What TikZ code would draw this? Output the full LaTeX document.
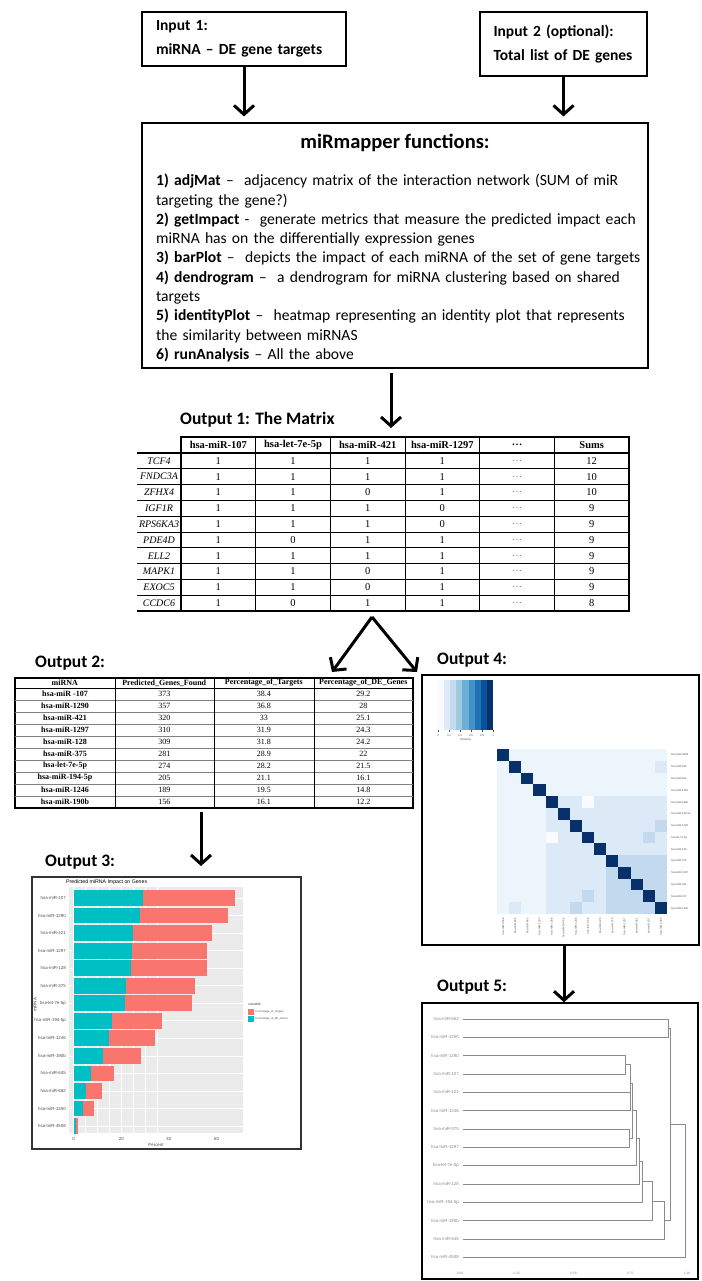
\documentclass[tikz,border=0pt]{standalone}
\usepackage{fontspec}
\setmainfont{Carlito}
\newfontfamily\tabfont{Liberation Serif}
\newfontfamily\plotfont{Liberation Sans}
\usetikzlibrary{arrows.meta,positioning}
\definecolor{deblue}{HTML}{00BFC4}
\definecolor{tgtred}{HTML}{F8766D}
\definecolor{panelgray}{HTML}{EBEBEB}
\definecolor{axisgray}{HTML}{4D4D4D}
\definecolor{dendgray}{HTML}{8A8A8A}
\definecolor{hmd}{HTML}{08306B}
\definecolor{hml}{HTML}{DCE9F6}
\definecolor{hmm}{HTML}{C3D9EE}
\definecolor{hmv}{HTML}{EDF5FC}
\definecolor{hmw}{HTML}{F9FBFF}
\tikzset{
  >=Stealth,
  bigarrow/.style = {line width=3pt, -{Straight Barb[length=9pt,width=20pt]}},
  inbox/.style = {draw, line width=1.1pt, align=left, font=\bfseries\fontsize{15.5}{24}\selectfont},
  otitle/.style = {anchor=west, inner sep=0pt, font=\bfseries\fontsize{17.5}{19}\selectfont},
  mhead/.style = {inner sep=0pt, font=\tabfont\bfseries\fontsize{10.5}{11}\selectfont},
  mcell/.style = {inner sep=0pt, font=\tabfont\fontsize{10.5}{11}\selectfont},
  mgene/.style = {inner sep=0pt, font=\tabfont\itshape\fontsize{10}{11}\selectfont},
  thead/.style = {inner sep=0pt, font=\tabfont\bfseries\fontsize{8}{9}\selectfont},
  tcell/.style = {inner sep=0pt, font=\tabfont\fontsize{8}{9}\selectfont},
  plotbox/.style = {draw, line width=1.5pt},
  tinytxt/.style = {inner sep=0pt, text=axisgray, font=\plotfont\fontsize{4.4}{5}\selectfont},
  hmtxt/.style = {inner sep=0pt, text=axisgray, font=\plotfont\fontsize{2.7}{3}\selectfont},
  dend/.style = {draw=dendgray, line width=0.7pt},
}
\begin{document}
\begin{tikzpicture}[x=1pt,y=-1pt]
\useasboundingbox (0,0) rectangle (701,1281);

% inputs and functions
\node[inbox, minimum width=204pt, minimum height=54pt, text width=176pt] (in1) at (244,39) {Input 1:\\miRNA – DE gene targets};
\node[inbox, minimum width=167pt, minimum height=64pt, text width=140pt] (in2) at (563.5,44) {Input 2 (optional):\\Total list of DE genes};
\node[draw, line width=1.1pt, minimum width=506pt, minimum height=245pt] (fun) at (395,245.5) {};
\node[font=\bfseries\fontsize{20.5}{22}\selectfont] (funtitle) at (395,143) {miRmapper functions:};
\node[anchor=north west, inner sep=0pt, align=left, text width=490pt, font=\fontsize{15.6}{19.3}\selectfont] (funbody) at (156,174) {%
\textbf{1) adjMat} –\ \ adjacency matrix of the interaction network (SUM of miR\\
targeting the gene?)\\
\textbf{2) getImpact} -\ \ generate metrics that measure the predicted impact each\\
miRNA has on the differentially expression genes\\
\textbf{3) barPlot} –\ \ depicts the impact of each miRNA of the set of gene targets\\
\textbf{4) dendrogram} –\ \ a dendrogram for miRNA clustering based on shared\\
targets\\
\textbf{5) identityPlot} –\ \ heatmap representing an identity plot that represents\\
the similarity between miRNAS\\
\textbf{6) runAnalysis} – All the above};

\draw[bigarrow, shorten >=6pt] (in1.south) -- (in1.south |- fun.north);
\draw[bigarrow, shorten >=6pt] (in2.south) -- (in2.south |- fun.north);
\coordinate (mtop) at (391,428);
\draw[bigarrow, shorten <=4pt] (fun.south -| mtop) -- (mtop);

% output 1: the matrix
\node[otitle] (o1) at (180,420) {Output 1: The Matrix};
\foreach \h [count=\c] in {hsa-miR-107,hsa-let-7e-5p,hsa-miR-421,hsa-miR-1297,\ldots,Sums}
  \node[mhead] (mh-\c) at ({181+74.67*(\c-0.5)},445) {\h};
\foreach \g/\va/\vb/\vc/\vd/\vs [count=\r] in {TCF4/1/1/1/1/12, FNDC3A/1/1/1/1/10,
    ZFHX4/1/1/0/1/10, IGF1R/1/1/1/0/9, RPS6KA3/1/1/1/0/9, PDE4D/1/0/1/1/9,
    ELL2/1/1/1/1/9, MAPK1/1/1/0/1/9, EXOC5/1/1/0/1/9, CCDC6/1/0/1/1/8}{
  \node[mgene] (mg-\r) at (159,{453+15.8*(\r-0.5)}) {\g};
  \foreach \v [count=\c] in {\va,\vb,\vc,\vd}
    \node[mcell] (mc-\r-\c) at ({181+74.67*(\c-0.5)},{453+15.8*(\r-0.5)}) {\v};
  \node[mcell, text=gray] (mc-\r-5) at ({181+74.67*4.5},{453+15.8*(\r-0.5)}) {\ldots};
  \node[mcell] (mc-\r-6) at ({181+74.67*5.5},{453+15.8*(\r-0.5)}) {\vs};
}
\draw[line width=1.6pt] (181,437) rectangle (629,611);
\draw[line width=1.4pt] (137,453) -- (629,453);
\draw[line width=1.4pt] (137,611) -- (181,611);
\foreach \i in {1,...,9}
  \draw[line width=0.7pt] (137,{453+15.8*\i}) -- (629,{453+15.8*\i});
\foreach \i in {1,...,5}
  \draw[line width=0.7pt] ({181+74.67*\i},437) -- ({181+74.67*\i},611);

\coordinate (split) at (372,617);
\coordinate (to2) at (332,672);
\coordinate (to4) at (417,672);
\draw[bigarrow] (split) -- (to2);
\draw[bigarrow] (split) -- (to4);

% output 2: impact table
\node[otitle] (o2) at (35,663) {Output 2:};
\foreach \h [count=\c] in {miRNA,Predicted\_Genes\_Found,Percentage\_of\_Targets,Percentage\_of\_DE\_Genes}
  \node[thead] (th-\c) at ({15+99.5*(\c-0.5)},683) {\h};
\foreach \mi/\va/\vb/\vc [count=\r] in {hsa-miR -107/373/38.4/29.2, hsa-miR-1290/357/36.8/28,
    hsa-miR-421/320/33/25.1, hsa-miR-1297/310/31.9/24.3, hsa-miR-128/309/31.8/24.2,
    hsa-miR-375/281/28.9/22, hsa-let-7e-5p/274/28.2/21.5, hsa-miR-194-5p/205/21.1/16.1,
    hsa-miR-1246/189/19.5/14.8, hsa-miR-190b/156/16.1/12.2}{
  \node[thead] (tm-\r) at (65,{688+12*(\r-0.5)}) {\mi};
  \foreach \v [count=\c from 2] in {\va,\vb,\vc}
    \node[tcell] (tc-\r-\c) at ({15+99.5*(\c-0.5)},{688+12*(\r-0.5)}) {\v};
}
\draw[line width=1.3pt] (15,678) rectangle (413,808);
\draw[line width=1pt] (15,688) -- (413,688);
\foreach \i in {1,...,9}
  \draw[line width=0.5pt, gray] (15,{688+12*\i}) -- (413,{688+12*\i});
\foreach \x in {115,214,314}
  \draw[line width=0.6pt] (\x,678) -- (\x,808);

% output 3: bar plot
\node[otitle] (o3) at (45,862) {Output 3:};
\node[plotbox, draw=black!80, line width=2pt, minimum width=269pt, minimum height=272pt] (box3) at (166.5,1013) {};
\coordinate (t2foot) at (201,812);
\draw[bigarrow, shorten >=10pt] (t2foot) -- (t2foot |- box3.north);
\fill[panelgray] (69,887) rectangle (243,1133);
\foreach \k in {0,...,7}
  \draw[white, line width={0.35pt+0.35pt*mod(\k+1,2)}] ({73.7+11.9*\k},887) -- ({73.7+11.9*\k},1133);
\node[tinytxt, anchor=west, text=black, font=\plotfont\fontsize{5.2}{6}\selectfont] (bartitle) at (66,882) {Predicted miRNA Impact on Genes};
\foreach \lab/\de/\tg [count=\i] in {hsa-miR-107/29.2/38.4, hsa-miR-1290/28/36.8, hsa-miR-421/25.1/33,
    hsa-miR-1297/24.3/31.9, hsa-miR-128/24.2/31.8, hsa-miR-375/22/28.9, hsa-let-7e-5p/21.5/28.2,
    hsa-miR-194-5p/16.1/21.1, hsa-miR-1246/14.8/19.5, hsa-miR-190b/12.2/16.1, hsa-miR-645/7.3/9.5,
    hsa-miR-662/5.2/6.8, hsa-miR-1250/3.8/4.9, hsa-miR-4508/0.8/0.9}{
  \draw[white, line width=0.7pt] (69,{898+17.54*(\i-1)}) -- (243,{898+17.54*(\i-1)});
  \fill[deblue] (73.7,{898+17.54*(\i-1)-7.9}) rectangle ({73.7+2.38*\de},{898+17.54*(\i-1)+7.9});
  \fill[tgtred] ({73.7+2.38*\de},{898+17.54*(\i-1)-7.9}) rectangle ({73.7+2.38*(\de+\tg)},{898+17.54*(\i-1)+7.9});
  \node[tinytxt, anchor=east] (bl-\i) at (66,{898+17.54*(\i-1)}) {\lab};
}
\foreach \t [count=\i from 0] in {0,20,40,60}
  \node[tinytxt] (bx-\i) at ({73.7+47.6*\i},1139) {\t};
\node[tinytxt] (barx) at (156,1144.5) {Percent};
\node[tinytxt, rotate=90] (bary) at (35,1005) {miRNA};
\node[tinytxt, anchor=west, font=\plotfont\fontsize{3.6}{4}\selectfont] (legtitle) at (248,1004) {variable};
\fill[tgtred] (248,1008.5) rectangle (254,1014.5);
\fill[deblue] (248,1015.5) rectangle (254,1021.5);
\node[hmtxt, anchor=west] (leg1) at (255.5,1011.5) {Percentage\_of\_Targets};
\node[hmtxt, anchor=west] (leg2) at (255.5,1018.5) {Percentage\_of\_DE\_Genes};

% output 4: identity heatmap
\node[otitle] (o4) at (437,660) {Output 4:};
\node[plotbox, minimum width=277pt, minimum height=270pt] (box4) at (560.5,810) {};
\foreach \col [count=\i from 0] in {F7FBFF,DEEBF7,C6DBEF,9ECAE1,6BAED6,4292C6,2171B5,08519C,08306B}{
  \definecolor{keycol}{HTML}{\col}
  \fill[keycol] ({438+6.11*\i},680) rectangle ++(6.11,50);
}
\foreach \t [count=\i from 0] in {0,0.2,0.4,0.6,0.8,1}{
  \draw[axisgray, line width=0.3pt] ({438+11*\i},730) -- ++(0,2);
  \node[hmtxt] (kt-\i) at ({438+11*\i},735.5) {\t};
}
\node[hmtxt] (keylab) at (465.5,740) {Similarity};
\foreach \row [count=\r] in {
    {d,v,v,v,v,v,v,v,v,v,v,v,v,v},
    {v,d,v,v,v,v,v,v,v,v,v,v,v,l},
    {v,v,d,v,v,v,v,v,v,v,v,v,v,v},
    {v,v,v,d,v,v,v,v,v,v,v,v,v,v},
    {v,v,v,v,d,l,l,w,l,l,l,l,l,l},
    {v,v,v,v,l,d,l,l,l,l,l,l,l,l},
    {v,v,v,v,l,l,d,l,l,l,l,l,l,m},
    {v,v,v,v,w,l,l,d,l,l,l,l,m,l},
    {v,v,v,v,l,l,l,l,d,l,l,l,l,l},
    {v,v,v,v,l,l,l,l,l,d,m,m,m,m},
    {v,v,v,v,l,l,l,l,l,m,d,m,m,m},
    {v,v,v,v,l,l,l,l,l,m,m,d,m,m},
    {v,v,v,v,l,l,l,m,l,m,m,m,d,m},
    {v,l,v,v,l,l,m,l,l,m,m,m,m,d}}{
  \foreach \k [count=\c] in \row
    \fill[fill=hm\k] ({497+12.14*(\c-1)},{749+11.79*(\r-1)}) rectangle ++(12.14,11.79);
}
\foreach \lab [count=\i] in {hsa-miR-4508,hsa-miR-645,hsa-miR-662,hsa-miR-1250,hsa-miR-190b,
    hsa-miR-194-5p,hsa-miR-1246,hsa-let-7e-5p,hsa-miR-128,hsa-miR-375,hsa-miR-1297,
    hsa-miR-421,hsa-miR-107,hsa-miR-1290}{
  \node[hmtxt, anchor=west] (hr-\i) at (671,{749+11.79*(\i-0.5)}) {\lab};
  \node[hmtxt, anchor=east, rotate=90] (hc-\i) at ({497+12.14*(\i-0.5)},918) {\lab};
}

% output 5: dendrogram
\node[otitle] (o5) at (437,987) {Output 5:};
\node[plotbox, minimum width=276pt, minimum height=276pt] (box5) at (560,1141) {};
\coordinate (o45) at (564,945);
\draw[bigarrow] (o45) -- (o45 |- box5.north);
\foreach \lab [count=\i] in {hsa-miR-662,hsa-miR-1250,hsa-miR-1290,hsa-miR-107,hsa-miR-421,
    hsa-miR-1246,hsa-miR-375,hsa-miR-1297,hsa-let-7e-5p,hsa-miR-128,hsa-miR-194-5p,
    hsa-miR-190b,hsa-miR-645,hsa-miR-4508}
  \node[tinytxt, text=dendgray, anchor=east] (dl-\i) at (459,{1019+18.33*(\i-1)}) {\lab};
\path[dend] (463,1019) -- (668.3,1019) -- (668.3,1037.3) -- (463,1037.3);         % 662, 1250
\path[dend] (463,1055.7) -- (625,1055.7) -- (625,1074) -- (463,1074);             % 1290, 107
\path[dend] (463,1092.3) -- (630,1092.3) -- (630,1110.7) -- (463,1110.7);         % 421, 1246
\path[dend] (625,1064.8) -- (630.7,1064.8) -- (630.7,1101.5) -- (630,1101.5);
\path[dend] (463,1129) -- (629,1129) -- (629,1147.3) -- (463,1147.3);             % 375, 1297
\path[dend] (630.7,1083.2) -- (632.7,1083.2) -- (632.7,1138.2) -- (629,1138.2);
\path[dend] (632.7,1110.7) -- (636.7,1110.7) -- (636.7,1165.7) -- (463,1165.7);   % let-7e-5p
\path[dend] (636.7,1138.2) -- (639.3,1138.2) -- (639.3,1184) -- (463,1184);       % 128
\path[dend] (639.3,1161.1) -- (642.7,1161.1) -- (642.7,1202.3) -- (463,1202.3);   % 194-5p
\path[dend] (642.7,1181.7) -- (652.7,1181.7) -- (652.7,1220.7) -- (463,1220.7);   % 190b
\path[dend] (652.7,1201.2) -- (664.3,1201.2) -- (664.3,1239) -- (463,1239);       % 645
\path[dend] (668.3,1028.2) -- (670,1028.2) -- (670,1220.1) -- (664.3,1220.1);
\path[dend] (670,1124.2) -- (685,1124.2) -- (685,1257.3) -- (463,1257.3);         % 4508
\foreach \t [count=\i from 0] in {0.00,0.25,0.50,0.75,1.00}
  \node[hmtxt, text=dendgray, font=\plotfont\fontsize{3.2}{4}\selectfont] (dx-\i) at ({460+56.75*\i},1273) {\t};
\end{tikzpicture}
\end{document}
